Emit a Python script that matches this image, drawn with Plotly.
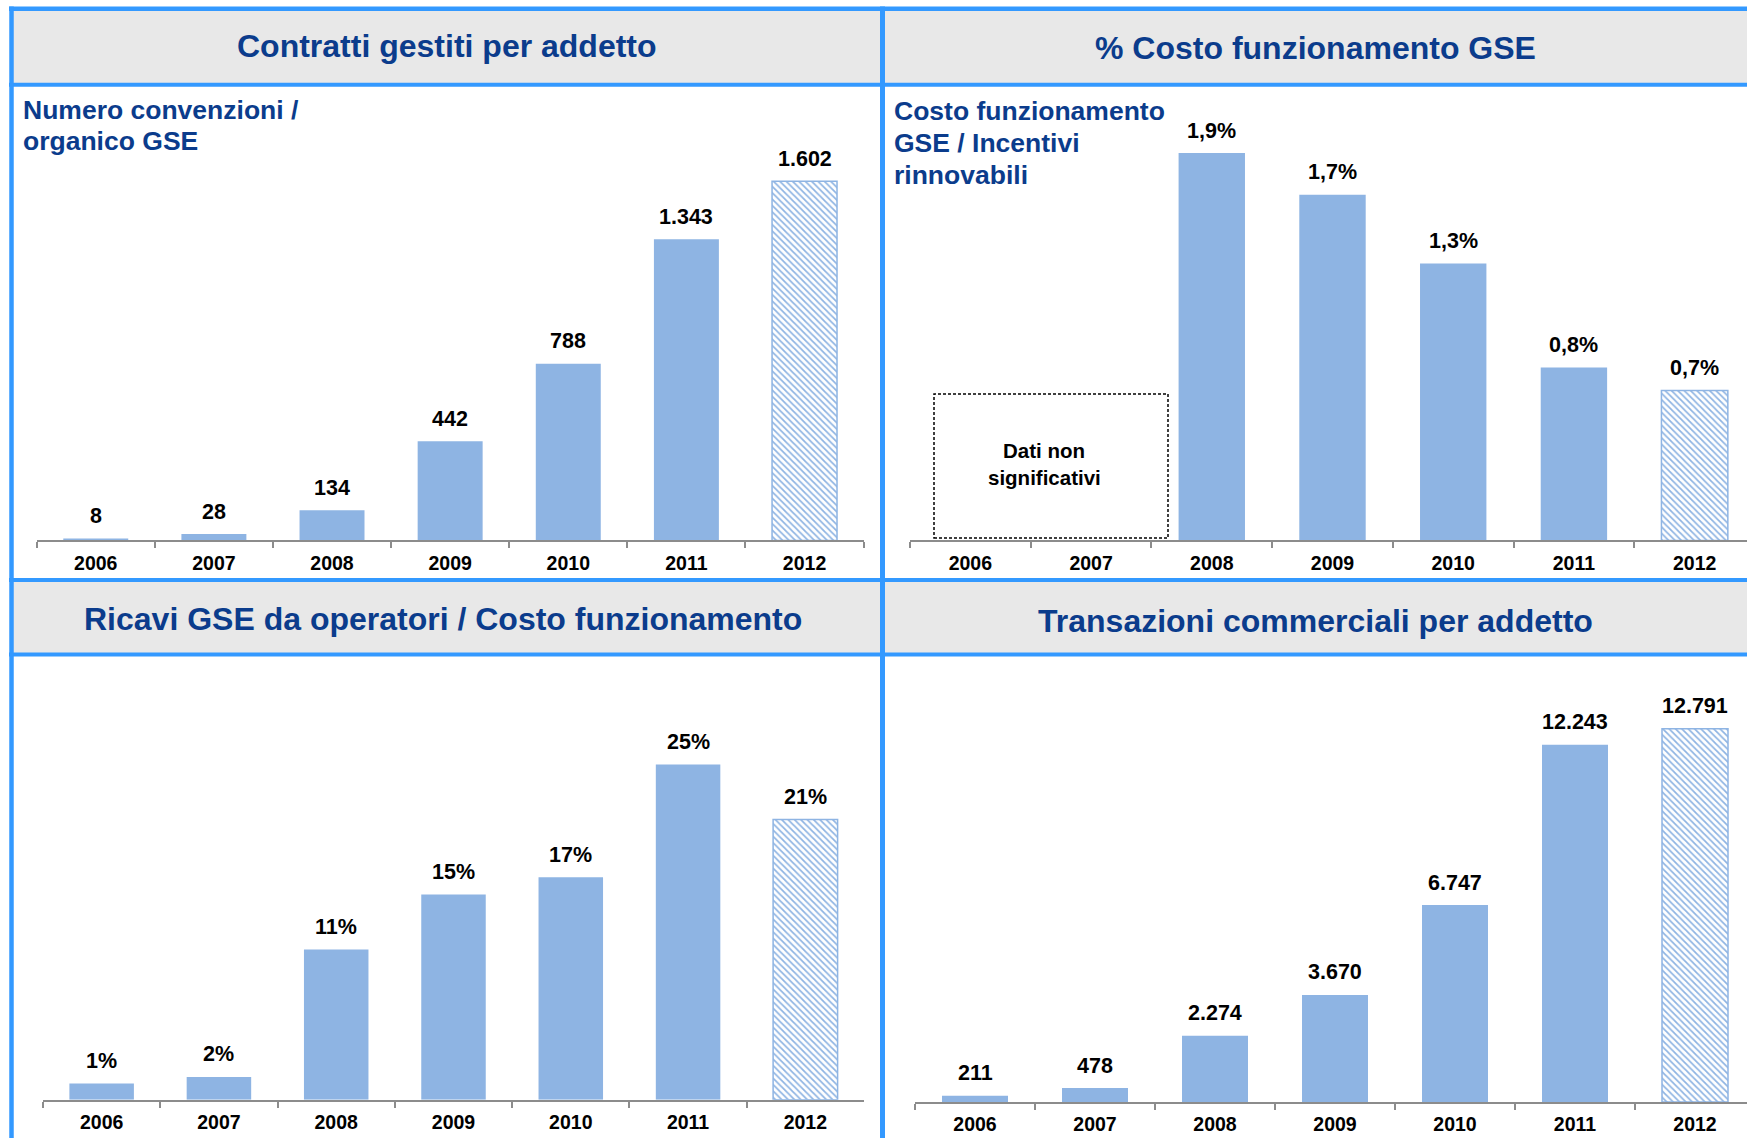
import plotly.graph_objects as go

# ---------------- data ----------------
years = ["2006", "2007", "2008", "2009", "2010", "2011", "2012"]

contratti_per_addetto = [8, 28, 134, 442, 788, 1343, 1602]
costo_funz_pct = [None, None, 1.86, 1.66, 1.33, 0.83, 0.72]
ricavi_su_costo_pct = [1.2, 1.7, 11.2, 15.3, 16.6, 25.0, 20.9]
transazioni_per_addetto = [211, 478, 2274, 3670, 6747, 12243, 12791]

titles = ["Contratti gestiti per addetto", "% Costo funzionamento GSE",
          "Ricavi GSE da operatori / Costo funzionamento",
          "Transazioni commerciali per addetto"]
subtitle_tl = ["Numero convenzioni /", "organico GSE"]
subtitle_tr = ["Costo funzionamento", "GSE / Incentivi", "rinnovabili"]
note_text = ["Dati non", "significativi"]

# ---------------- style ----------------
W, H = 1747, 1138
BAR = "#8EB4E3"
BORDER = "#3399FF"
HEAD_BG = "#E8E8E8"
TITLE_C = "#0B3C8C"
FONT = "Liberation Sans, Arial, sans-serif"


def px(x):
    return x / W


def py(y):
    return 1 - y / H


def fmt_int(v):
    return f"{v:,.0f}".replace(",", ".")


def fmt_pct1(v):
    return f"{v:.1f}".replace(".", ",") + "%"


def fmt_pct0(v):
    return f"{v:.0f}%"


panels = [
    dict(vals=contratti_per_addetto, fmt=fmt_int, xd=(36.7, 863.6), yd=(100, 540.4),
         ymax=1964, xr=[-0.5, 6.5]),
    dict(vals=costo_funz_pct, fmt=fmt_pct1, xd=(910, W), yd=(100, 540.4),
         ymax=2.115, xr=[-0.5, 6.5 - 8 / 120.75]),
    dict(vals=ricavi_su_costo_pct, fmt=fmt_pct0, xd=(43, 864), yd=(660, 1099.7),
         ymax=32.8, xr=[-0.5, 6.5]),
    dict(vals=transazioni_per_addetto, fmt=fmt_int, xd=(915, W), yd=(662, 1102),
         ymax=15078, xr=[-0.5, 6.5 - 8 / 120]),
]

fig = go.Figure()
annotations = []
layout_axes = {}

n = len(years)
for i, p in enumerate(panels, start=1):
    xa = "x" if i == 1 else f"x{i}"
    ya = "y" if i == 1 else f"y{i}"
    fig.add_trace(go.Bar(
        x=years, y=p["vals"], xaxis=xa, yaxis=ya,
        width=0.55,
        marker=dict(
            color=BAR,
            line=dict(color=[BAR] * n, width=[0] * (n - 1) + [1.5]),
            pattern=dict(shape=[""] * (n - 1) + ["\\"], fillmode="replace",
                         bgcolor="white", fgcolor=BAR, size=4.5, solidity=0.38),
        ),
        showlegend=False, hoverinfo="skip",
    ))
    for j, v in enumerate(p["vals"]):
        if v is None:
            continue
        annotations.append(dict(
            x=j, y=v, xref=xa, yref=ya, text=f"<b>{p['fmt'](v)}</b>",
            showarrow=False, yanchor="middle", yshift=22.5,
            font=dict(family=FONT, size=21.5, color="black")))
    kx = "xaxis" if i == 1 else f"xaxis{i}"
    ky = "yaxis" if i == 1 else f"yaxis{i}"
    layout_axes[kx] = dict(
        domain=[px(p["xd"][0]), px(p["xd"][1])], anchor=ya, type="category",
        range=p["xr"], showline=True, linecolor="#8C8C8C", linewidth=2,
        ticks="outside", tickson="boundaries", ticklen=6, tickwidth=1.5,
        tickcolor="#8C8C8C", showgrid=False, zeroline=False,
        ticklabelstandoff=4,
        tickfont=dict(family=FONT, size=19.5, color="black", weight="bold"),
        fixedrange=True)
    layout_axes[ky] = dict(
        domain=[py(p["yd"][1]), py(p["yd"][0])], anchor=xa,
        range=[0, p["ymax"]], showline=False, showgrid=False, zeroline=False,
        showticklabels=False, ticks="", fixedrange=True)

# ---------------- panel frames ----------------
shapes = []
# header bands
for y0, y1 in [(11, 83), (582, 653)]:
    shapes.append(dict(type="rect", xref="paper", yref="paper", layer="below",
                       x0=px(11), x1=px(W), y0=py(y1), y1=py(y0),
                       fillcolor=HEAD_BG, line=dict(width=0)))
# blue horizontal lines
for yc, t in [(8.8, 4.5), (84.8, 4), (580, 4), (654.6, 4)]:
    shapes.append(dict(type="line", xref="paper", yref="paper",
                       x0=px(9), x1=px(W), y0=py(yc), y1=py(yc),
                       line=dict(color=BORDER, width=t)))
# blue vertical lines
for xc, t in [(11.5, 4.5), (882.5, 5)]:
    shapes.append(dict(type="line", xref="paper", yref="paper",
                       x0=px(xc), x1=px(xc), y0=py(6.5), y1=py(H),
                       line=dict(color=BORDER, width=t)))
# dashed "not significant" box
shapes.append(dict(type="rect", xref="paper", yref="paper",
                   x0=px(934), x1=px(1168), y0=py(538), y1=py(394),
                   line=dict(color="black", width=1.5, dash="3px,2px")))

# titles
for t, (cx, cy) in zip(titles, [(447, 46), (1315, 48), (443, 619), (1315, 621)]):
    annotations.append(dict(x=px(cx), y=py(cy), xref="paper", yref="paper",
                            text=f"<b>{t}</b>", showarrow=False,
                            xanchor="center", yanchor="middle",
                            font=dict(family=FONT, size=32, color=TITLE_C)))
# subtitles
for line, cy in zip(subtitle_tl, [110, 141]):
    annotations.append(dict(x=px(21), y=py(cy), xref="paper", yref="paper",
                            text=f"<b>{line}</b>", showarrow=False,
                            xanchor="left", yanchor="middle",
                            font=dict(family=FONT, size=26.5, color=TITLE_C)))
for line, cy in zip(subtitle_tr, [111, 143, 175]):
    annotations.append(dict(x=px(892), y=py(cy), xref="paper", yref="paper",
                            text=f"<b>{line}</b>", showarrow=False,
                            xanchor="left", yanchor="middle",
                            font=dict(family=FONT, size=26.5, color=TITLE_C)))
# note in dashed box
for line, cy in zip(note_text, [451, 478]):
    annotations.append(dict(x=px(1044), y=py(cy), xref="paper", yref="paper",
                            text=f"<b>{line}</b>", showarrow=False,
                            xanchor="center", yanchor="middle",
                            font=dict(family=FONT, size=20.5, color="black")))

fig.update_layout(
    width=W, height=H, autosize=False,
    margin=dict(l=0, r=0, t=0, b=0, pad=0),
    paper_bgcolor="white", plot_bgcolor="white",
    bargap=0.45, showlegend=False,
    shapes=shapes, annotations=annotations,
    font=dict(family=FONT),
    **layout_axes,
)

fig.write_html("out.html", config={"displayModeBar": False},
               post_script="document.body.style.margin='0';document.body.style.overflow='hidden';")
